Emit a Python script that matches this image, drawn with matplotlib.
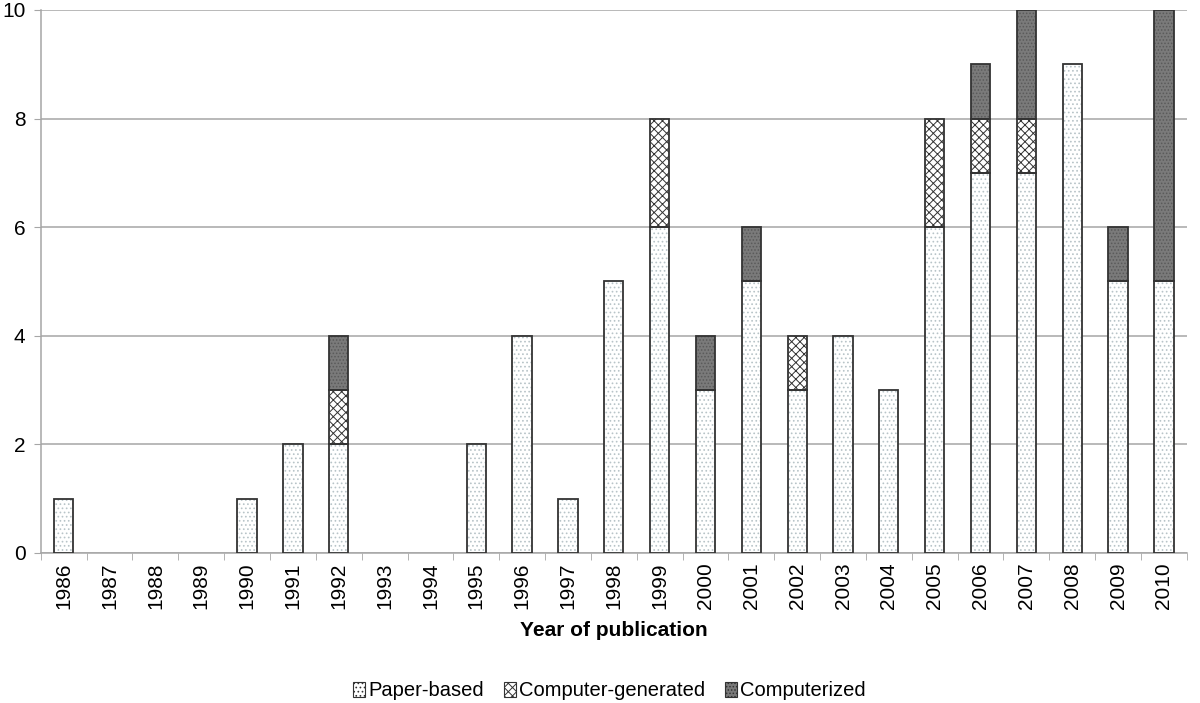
import matplotlib.pyplot as plt
import numpy as np

plt.rcParams['font.family'] = ['Liberation Sans', 'DejaVu Sans']
plt.rcParams['hatch.linewidth'] = 0.7

years = [str(y) for y in range(1986, 2011)]
paper_based = [1, 0, 0, 0, 1, 2, 2, 0, 0, 2, 4, 1, 5, 6, 3, 5, 3, 4, 3, 6, 7, 7, 9, 5, 5]
computer_generated = [0, 0, 0, 0, 0, 0, 1, 0, 0, 0, 0, 0, 0, 2, 0, 0, 1, 0, 0, 2, 1, 1, 0, 0, 0]
computerized = [0, 0, 0, 0, 0, 0, 1, 0, 0, 0, 0, 0, 0, 0, 1, 1, 0, 0, 0, 0, 1, 2, 0, 1, 5]

series = [
    ('Paper-based', paper_based, 'white', '....', '#b8c4c8'),
    ('Computer-generated', computer_generated, 'white', 'xxxx', '#333333'),
    ('Computerized', computerized, '#7a7a7a', '.....', '#5a5a5a'),
]

fig = plt.figure(figsize=(12, 7.03), dpi=100)
ax = fig.add_axes([0.034, 0.2134, 0.955, 0.7724])

x = np.arange(len(years))
width = 0.42
bottom = np.zeros(len(years))
handles = []
for label, vals, face, hatch, hcolor in series:
    vals = np.array(vals, dtype=float)
    keep = vals > 0
    ax.bar(x[keep], vals[keep], width, bottom=bottom[keep], color=face, hatch=hatch,
           edgecolor=hcolor, linewidth=0, zorder=3)
    ax.bar(x[keep], vals[keep], width, bottom=bottom[keep], fill=False,
           edgecolor='#333333', linewidth=1.3, zorder=4)
    handles.append(plt.Rectangle((0, 0), 1, 1, facecolor=face, hatch=hatch,
                                 edgecolor='#333333', linewidth=0.8, label=label))
    bottom += vals

ax.set_xlim(-0.5, len(years) - 0.5)
ax.set_ylim(0, 10)
ax.set_yticks(range(0, 11, 2))
ax.yaxis.grid(True, color='#a6a6a6', linewidth=1.1, zorder=0)
ax.set_xticks(x)
ax.set_xticklabels(years, rotation=90, fontsize=15)
ax.set_xticks(np.arange(-0.5, len(years), 1), minor=True)
ax.tick_params(axis='x', which='major', length=0, pad=7)
ax.tick_params(axis='x', which='minor', length=5, color='#a6a6a6', direction='out')
ax.tick_params(axis='y', length=5, color='#a6a6a6', labelsize=15, pad=6)

for side in ['top', 'right']:
    ax.spines[side].set_visible(False)
for side in ['left', 'bottom']:
    ax.spines[side].set_color('#a6a6a6')
    ax.spines[side].set_linewidth(1.1)

ax.set_xlabel('Year of publication', fontsize=15, fontweight='bold', labelpad=8)

fig.legend(handles=handles, loc='lower center', bbox_to_anchor=(0.508, -0.022),
           ncol=3, frameon=False, fontsize=14.5, handlelength=0.6, handleheight=0.8,
           handletextpad=0.15, columnspacing=1.0)

fig.savefig('out.png', dpi=100)
